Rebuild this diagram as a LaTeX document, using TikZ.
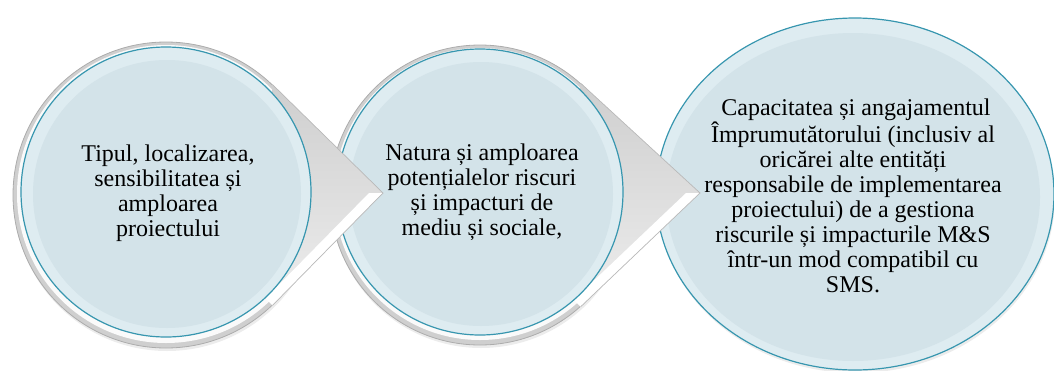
\documentclass[tikz,border=0pt]{standalone}
\usepackage{fontspec}
\setmainfont{Liberation Serif}
\usetikzlibrary{shapes.geometric,calc,shadows}
\definecolor{discfill}{RGB}{211,227,233}
\definecolor{discband}{RGB}{222,236,241}
\definecolor{tealline}{RGB}{55,150,175}
\begin{document}
\begin{tikzpicture}[x=1pt,y=1pt,
  rimouter/.style={circle,inner sep=0pt,fill=gray!38,draw=gray!65,line width=0.8pt,
    drop shadow={opacity=0.15,shadow xshift=1pt,shadow yshift=-3pt}},
  riminner/.style={circle,inner sep=0pt,fill=gray!4},
  disc/.style={circle,inner sep=0pt,fill=discband,draw=tealline,line width=1.2pt},
  discin/.style={circle,inner sep=0pt,fill=discfill},
  lbl/.style={align=center,font=\fontsize{24}{25}\selectfont,text=black,inner sep=0pt},
  armface/.style={top color=gray!38,bottom color=gray!14},
  armedge/.style={draw=gray!55,line width=0.7pt},
  armlit/.style={fill=white}]
\useasboundingbox (0,0) rectangle (1054,-370);

% ---- third (last) ellipse ----
\node[ellipse,minimum width=398pt,minimum height=352pt,inner sep=0pt,fill=discband,
      draw=tealline,line width=1.2pt,
      drop shadow={opacity=0.15,shadow xshift=1pt,shadow yshift=-3pt}] (e3) at (855,-194) {};
\node[ellipse,minimum width=374pt,minimum height=328pt,inner sep=0pt,fill=discfill] (e3in) at (853,-197) {};

% ---- second circle with arrow ----
\coordinate (tip2) at (700,-193);
\node[rimouter,minimum size=300pt] (r2) at (480,-195) {};
\node[riminner,minimum size=292pt] (r2in) at (480,-194) {};
\path[armface] (r2.48) -- (tip2) -- (r2.-48) -- cycle;
\path[armlit] (tip2) -- (r2.-48) -- ($(r2.-48)+(-7,7)$) -- ($(tip2)+(-14,0)$) -- cycle;
\draw[armedge] (r2.48) -- (tip2) -- (r2.-48);
\node[disc,minimum size=286pt] (c2) at (480,-192) {};
\node[discin,minimum size=264pt] (c2in) at (481,-194) {};

% ---- first circle with arrow ----
\coordinate (tip1) at (383,-193);
\node[rimouter,minimum size=306pt] (r1) at (166,-195) {};
\node[riminner,minimum size=298pt] (r1in) at (166,-194) {};
\path[armface] (r1.46) -- (tip1) -- (r1.-46) -- cycle;
\path[armlit] (tip1) -- (r1.-46) -- ($(r1.-46)+(-7,7)$) -- ($(tip1)+(-14,0)$) -- cycle;
\draw[armedge] (r1.46) -- (tip1) -- (r1.-46);
\node[disc,minimum size=290pt] (c1) at (166,-192) {};
\node[discin,minimum size=268pt] (c1in) at (167,-194) {};

% ---- texts ----
\node[lbl] (t1) at (168,-193) {Tipul, localizarea,\\sensibilitatea și\\amploarea\\proiectului};
\node[lbl] (t2) at (482,-192) {Natura și amploarea\\potențialelor riscuri\\și impacturi de\\mediu și sociale,};
\node[lbl] (t3) at (853,-196) {\ Capacitatea și angajamentul\\Împrumutătorului (inclusiv al\\oricărei alte entități\\responsabile de implementarea\\proiectului) de a gestiona\\riscurile și impacturile M\&S\\într-un mod compatibil cu\\SMS.};
\end{tikzpicture}
\end{document}
